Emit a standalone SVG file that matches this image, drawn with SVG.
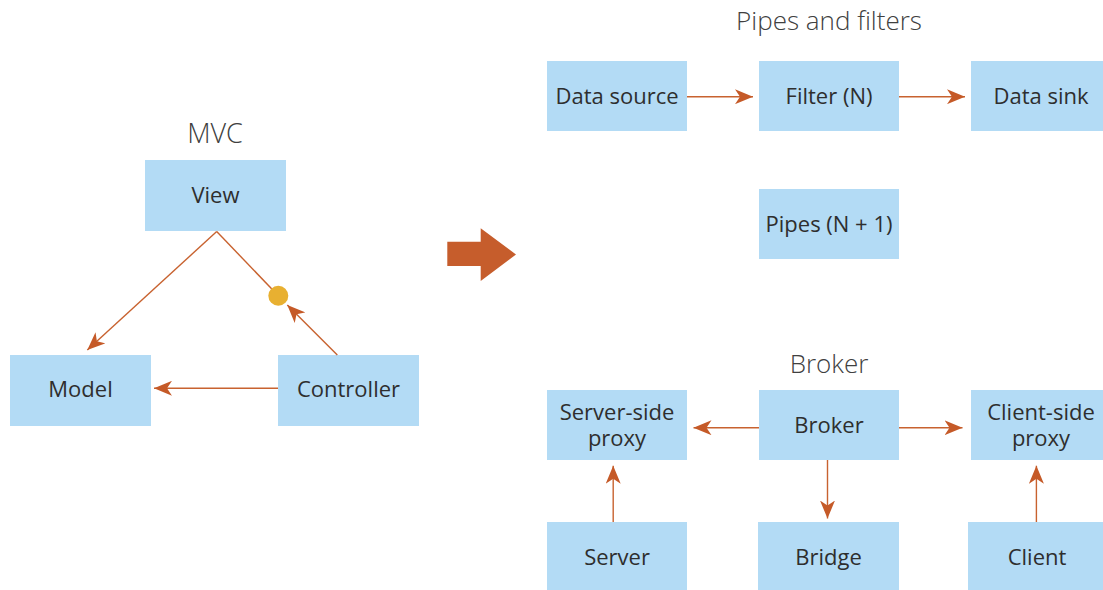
<svg xmlns="http://www.w3.org/2000/svg" width="1103" height="590" viewBox="0 0 1103 590">
  <style>
    .box { fill: #b3dbf5; }
    .lbl { font-family: "Open Sans", "Liberation Sans", sans-serif; font-size: 22px; fill: #2e2e2e; text-anchor: middle; }
    .title { font-family: "Open Sans", "Liberation Sans", sans-serif; font-weight: 300; font-size: 26px; fill: #404040; text-anchor: middle; }
    .conn { stroke: #c8622f; stroke-width: 1.4; fill: none; }
  </style>
  <defs>
    <marker id="head" viewBox="0 0 18 15" refX="18" refY="7.5" markerWidth="18" markerHeight="15" markerUnits="userSpaceOnUse" orient="auto">
      <path d="M0,0 L18,7.5 L0,15 L5,7.5 Z" fill="#c55a28"/>
    </marker>
  </defs>

  <rect width="1103" height="590" fill="#ffffff"/>

  <!-- Section titles -->
  <text class="title" x="215" y="143" style="font-size:27px">MVC</text>
  <text class="title" x="829" y="30">Pipes and filters</text>
  <text class="title" x="829" y="373">Broker</text>

  <!-- MVC -->
  <g id="view"><rect class="box" x="145" y="160" width="141" height="71"/><text class="lbl" x="215.5" y="203">View</text></g>
  <g id="model"><rect class="box" x="10" y="355" width="141" height="71"/><text class="lbl" x="80.5" y="397">Model</text></g>
  <g id="controller"><rect class="box" x="278" y="355" width="141" height="71"/><text class="lbl" x="348.5" y="397">Controller</text></g>

  <!-- Transition arrow -->
  <g id="transition">
    <polygon points="447.3,241.7 480.7,241.7 480.7,228.3 516,254.5 480.7,281 480.7,266 447.3,266" fill="#c65d2c"/>
  </g>

  <!-- Pipes and filters -->
  <g id="data-source"><rect class="box" x="547" y="61" width="140" height="70"/><text class="lbl" x="617" y="104">Data source</text></g>
  <g id="filter"><rect class="box" x="759" y="61" width="140" height="70"/><text class="lbl" x="829" y="104">Filter (N)</text></g>
  <g id="data-sink"><rect class="box" x="971" y="61" width="140" height="70"/><text class="lbl" x="1041" y="104">Data sink</text></g>
  <g id="pipes"><rect class="box" x="759" y="189" width="140" height="70"/><text class="lbl" x="829" y="232">Pipes (N + 1)</text></g>

  <!-- Broker -->
  <g id="server-proxy"><rect class="box" x="547" y="390" width="140" height="70"/><text class="lbl" x="617" y="420">Server-side<tspan x="617" dy="26">proxy</tspan></text></g>
  <g id="broker"><rect class="box" x="759" y="390" width="140" height="70"/><text class="lbl" x="829" y="433">Broker</text></g>
  <g id="client-proxy"><rect class="box" x="971" y="390" width="140" height="70"/><text class="lbl" x="1041" y="420">Client-side<tspan x="1041" dy="26">proxy</tspan></text></g>
  <g id="server"><rect class="box" x="547" y="522" width="140" height="70"/><text class="lbl" x="617" y="565">Server</text></g>
  <g id="bridge"><rect class="box" x="758" y="522" width="141" height="70"/><text class="lbl" x="828.5" y="565">Bridge</text></g>
  <g id="client"><rect class="box" x="968" y="522" width="140" height="70"/><text class="lbl" x="1037" y="565">Client</text></g>

  <!-- Connectors -->
  <g id="connectors">
    <line class="conn" x1="216.7" y1="231.5" x2="87.3" y2="350" marker-end="url(#head)"/>
    <line class="conn" x1="216.7" y1="231.5" x2="278.3" y2="295.7"/>
    <line class="conn" x1="337.3" y1="355" x2="287.3" y2="305" marker-end="url(#head)"/>
    <line class="conn" x1="278" y1="388.3" x2="154" y2="388.3" marker-end="url(#head)"/>
    <circle cx="278.3" cy="295.7" r="10" fill="#e8b031"/>

    <line class="conn" x1="687" y1="96.7" x2="753" y2="96.7" marker-end="url(#head)"/>
    <line class="conn" x1="899" y1="96.7" x2="965" y2="96.7" marker-end="url(#head)"/>

    <line class="conn" x1="759" y1="427.7" x2="693.5" y2="427.7" marker-end="url(#head)"/>
    <line class="conn" x1="899" y1="427.7" x2="962.5" y2="427.7" marker-end="url(#head)"/>
    <line class="conn" x1="827.5" y1="460" x2="827.5" y2="518.5" marker-end="url(#head)"/>
    <line class="conn" x1="613.2" y1="522" x2="613.2" y2="465.7" marker-end="url(#head)"/>
    <line class="conn" x1="1036.4" y1="522" x2="1036.4" y2="465.7" marker-end="url(#head)"/>
  </g>
</svg>
